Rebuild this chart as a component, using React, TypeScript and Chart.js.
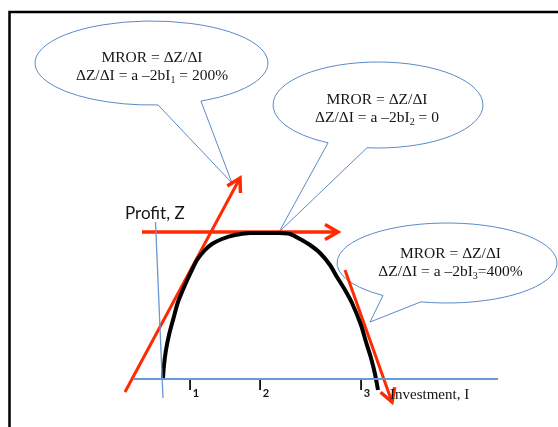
import React, { useEffect, useRef } from "react";
import { Chart, registerables } from "chart.js";

Chart.register(...registerables);

const W = 558;
const H = 427;

// Profit curve Z(I) in diagram units (10 px per unit)
const profitI = [0.1, 0.2, 0.4, 0.7, 1.1, 1.6, 2.3, 2.9, 3.5, 4.3, 5.0, 6.0, 7.3, 8.8, 10.3, 11.6, 12.8, 13.8, 14.8, 15.8, 16.8, 17.5, 18.3, 19.0, 19.9, 20.4, 20.9, 21.3, 21.6];
const profitZ = [0, 1.3, 2.8, 4.3, 5.8, 7.6, 9.3, 10.6, 11.8, 12.8, 13.4, 13.9, 14.3, 14.5, 14.5, 14.5, 14.4, 13.9, 13.3, 12.5, 11.3, 10.1, 8.8, 7.5, 5.3, 3.6, 2.0, 0.4, -1.2];

// Tangent arrows (start, end)
const tangent1I = [-3.7, 7.8];
const tangent1Z = [-1.4, 20.0];
const tangent2I = [-2.0, 17.6];
const tangent2Z = [14.6, 14.6];
const tangent3I = [18.3, 23.0];
const tangent3Z = [10.8, -2.4];

// Axes
const axisII = [-2.9, 33.6];
const axisIZ = [-0.1, -0.1];
const axisZI = [-0.65, 0.1];
const axisZZ = [15.6, -2.0];

// Investment levels marked under the axis
const levelNames = ["1", "2", "3"];
const levelI = [2.6, 9.6, 19.7];

// Marginal rate of return at each level
const mrorValues = ["200%", "0", "400%"];

const RED = "#ff2a00";
const BLUE = "#6a98d2";
const OUTLINE = "#5b8ac6";
const INK = "#151515";
const SERIF = '"Liberation Serif", "Times New Roman", serif';
const SANS = 'Lato, "Open Sans", sans-serif';

const pts = (xs: number[], ys: number[]) => xs.map((x, i) => ({ x, y: ys[i] }));

// Speech-bubble callouts: ellipse centre/radii and tail tip in diagram units,
// tail base given as ellipse angles in degrees
const callouts = [
  { ci: -1.05, cz: 31.5, ri: 11.65, rz: 4.2, a0: 64.9, a1: 86.8, tipI: 7.0, tipZ: 19.5, tx: 0.05, base: 62, gap: "= ", lvl: 0 },
  { ci: 21.6, cz: 27.3, ri: 10.5, rz: 4.3, a0: 96, a1: 118.4, tipI: 11.7, tipZ: 14.6, tx: -0.1, base: 104, gap: "= ", lvl: 1 },
  { ci: 28.5, cz: 11.5, ri: 11.0, rz: 4.0, a0: 103.7, a1: 125.6, tipI: 20.8, tipZ: 5.6, tx: 0.35, base: 258, gap: "=", lvl: 2 },
];

type Part = { t: string; sub?: boolean };

function drawRich(ctx: CanvasRenderingContext2D, parts: Part[], cx: number, y: number, font: string, subFont: string, drop: number) {
  let w = 0;
  for (const p of parts) {
    ctx.font = p.sub ? subFont : font;
    w += ctx.measureText(p.t).width;
  }
  let x = cx - w / 2;
  for (const p of parts) {
    ctx.font = p.sub ? subFont : font;
    ctx.fillText(p.t, x, y + (p.sub ? drop : 0));
    x += ctx.measureText(p.t).width;
  }
}

const diagramPlugin = {
  id: "diagram",
  beforeDatasetsDraw(chart: any) {
    const ctx: CanvasRenderingContext2D = chart.ctx;
    const sx = chart.scales.x;
    const sy = chart.scales.y;
    ctx.save();
    // slide frame
    ctx.strokeStyle = "#000";
    ctx.lineWidth = 2.5;
    ctx.beginPath();
    ctx.moveTo(9.5, H + 2);
    ctx.lineTo(9.5, 12);
    ctx.lineTo(W + 2, 12);
    ctx.stroke();

    // callouts
    for (const c of callouts) {
      const cx = sx.getPixelForValue(c.ci);
      const cy = sy.getPixelForValue(c.cz);
      const rx = sx.getPixelForValue(c.ci + c.ri) - cx;
      const ry = cy - sy.getPixelForValue(c.cz + c.rz);
      const tx = sx.getPixelForValue(c.tipI);
      const ty = sy.getPixelForValue(c.tipZ);
      ctx.beginPath();
      ctx.ellipse(cx, cy, rx, ry, 0, (c.a0 * Math.PI) / 180, (c.a1 * Math.PI) / 180, true);
      ctx.lineTo(tx, ty);
      ctx.closePath();
      ctx.strokeStyle = OUTLINE;
      ctx.lineWidth = 1;
      ctx.stroke();

      const textX = sx.getPixelForValue(c.ci + c.tx);
      ctx.fillStyle = INK;
      ctx.textAlign = "left";
      ctx.textBaseline = "alphabetic";
      const font = `15.5px ${SERIF}`;
      const subFont = `10px ${SERIF}`;
      drawRich(ctx, [{ t: "MROR = \u0394Z/\u0394I" }], textX, c.base, font, subFont, 3);
      drawRich(
        ctx,
        [
          { t: "\u0394Z/\u0394I = a \u20132bI" },
          { t: levelNames[c.lvl], sub: true },
          { t: (c.gap === "= " ? " = " : "=") + mrorValues[c.lvl] },
        ],
        textX,
        c.base + 18,
        font,
        subFont,
        3
      );
    }
    ctx.restore();
  },
  afterDatasetsDraw(chart: any) {
    const ctx: CanvasRenderingContext2D = chart.ctx;
    const sx = chart.scales.x;
    const sy = chart.scales.y;
    ctx.save();
    // open arrowheads at the end of each tangent
    chart.data.datasets.forEach((ds: any, i: number) => {
      if (!ds.arrow) return;
      const els = chart.getDatasetMeta(i).data;
      const a = els[els.length - 2];
      const b = els[els.length - 1];
      const ang = Math.atan2(b.y - a.y, b.x - a.x);
      const len = 15;
      const spread = (30 * Math.PI) / 180;
      ctx.strokeStyle = RED;
      ctx.lineWidth = 3.5;
      ctx.lineJoin = "miter";
      ctx.beginPath();
      ctx.moveTo(b.x - len * Math.cos(ang - spread), b.y - len * Math.sin(ang - spread));
      ctx.lineTo(b.x, b.y);
      ctx.lineTo(b.x - len * Math.cos(ang + spread), b.y - len * Math.sin(ang + spread));
      ctx.stroke();
    });

    ctx.fillStyle = INK;
    ctx.textAlign = "left";
    ctx.textBaseline = "alphabetic";
    // axis titles
    ctx.font = `17px ${SANS}`;
    ctx.fillText("Profit, Z", sx.getPixelForValue(-3.7), sy.getPixelForValue(15.9));
    ctx.font = `15px ${SERIF}`;
    ctx.fillText("Investment, I", sx.getPixelForValue(22.8), sy.getPixelForValue(-2.1));
    // investment level labels
    levelI.forEach((v, i) => {
      const x = sx.getPixelForValue(v);
      const y = sy.getPixelForValue(-1.2);
      ctx.font = `bold 14px ${SANS}`;
      ctx.fillText("I", x, y);
      const w = ctx.measureText("I").width;
      ctx.font = `bold 11px ${SANS}`;
      ctx.fillText(levelNames[i], x + w + 0.5, y + 7);
    });
    ctx.restore();
  },
};

export default function App() {
  const ref = useRef<HTMLCanvasElement>(null);
  useEffect(() => {
    document.body.style.margin = "0";
    document.body.style.overflow = "hidden";
    const line = (data: any, color: string, width: number, extra: any = {}) => ({
      data,
      showLine: true,
      borderColor: color,
      backgroundColor: color,
      borderWidth: width,
      pointRadius: 0,
      fill: false,
      ...extra,
    });
    const chart = new Chart(ref.current!, {
      type: "scatter",
      data: {
        datasets: [
          line(pts(axisII, axisIZ), BLUE, 2),
          line(pts(axisZI, axisZZ), BLUE, 1.3),
          line(pts(profitI, profitZ), "#000", 4, { tension: 0.25, borderCapStyle: "butt" }),
          line(pts(tangent1I, tangent1Z), RED, 3, { arrow: true }),
          line(pts(tangent2I, tangent2Z), RED, 3.5, { arrow: true }),
          line(pts(tangent3I, tangent3Z), RED, 3, { arrow: true }),
        ],
      },
      options: {
        responsive: false,
        animation: false,
        devicePixelRatio: 1,
        events: [],
        layout: { padding: 0 },
        plugins: { legend: { display: false }, tooltip: { enabled: false } },
        scales: {
          x: { type: "linear", min: -16.2, max: 39.6, display: false },
          y: { type: "linear", min: -4.9, max: 37.8, display: false },
        },
      },
      plugins: [diagramPlugin],
    } as any);
    return () => chart.destroy();
  }, []);
  return (
    <div style={{ position: "fixed", left: 0, top: 0, width: W, height: H, background: "#fff", overflow: "hidden" }}>
      <canvas ref={ref} width={W} height={H} style={{ display: "block", width: W, height: H }} />
    </div>
  );
}
